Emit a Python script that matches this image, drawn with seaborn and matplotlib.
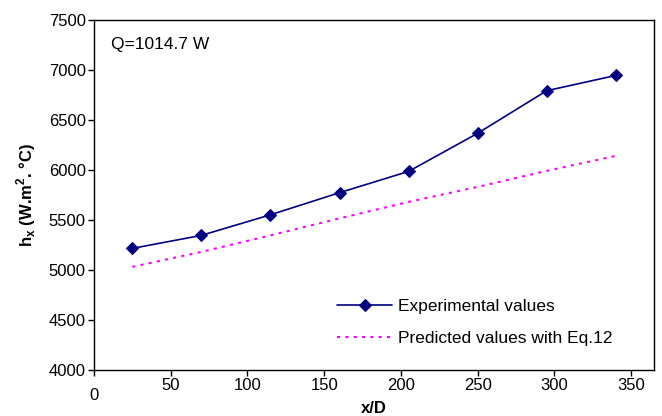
import matplotlib
matplotlib.use("Agg")
import matplotlib.pyplot as plt
import seaborn as sns
import pandas as pd

x_d = [25, 70, 115, 160, 205, 250, 295, 340]
h_exp = [5215, 5345, 5551, 5772, 5985, 6366, 6792, 6945]
h_pred = [5030, 5180, 5345, 5515, 5680, 5830, 5990, 6140]
x_ticks = [0, 50, 100, 150, 200, 250, 300, 350]
y_ticks = [4000, 4500, 5000, 5500, 6000, 6500, 7000, 7500]

sns.set_theme(style="white")
plt.rcParams['font.family'] = ['Liberation Sans', 'DejaVu Sans']
plt.rcParams['mathtext.fontset'] = 'custom'
plt.rcParams['mathtext.rm'] = 'Liberation Sans'
plt.rcParams['mathtext.bf'] = 'Liberation Sans:bold'
plt.rcParams['text.color'] = 'black'
plt.rcParams['axes.labelcolor'] = 'black'
plt.rcParams['xtick.color'] = 'black'
plt.rcParams['ytick.color'] = 'black'

df = pd.DataFrame({"x": x_d, "exp": h_exp, "pred": h_pred})

fig = plt.figure(figsize=(6.62, 4.16), dpi=100)
ax = fig.add_axes([0.142, 0.111, 0.846, 0.841])

sns.lineplot(data=df, x="x", y="exp", ax=ax, color="#000080", marker="D",
             markersize=6, markeredgecolor="#000080", linewidth=1.2,
             label="Experimental values")
sns.lineplot(data=df, x="x", y="pred", ax=ax, color="#FF00FF",
             linewidth=1.5, linestyle=(0, (1.5, 2.5)),
             label="Predicted values with Eq.12")

ax.set_xlim(0, 365)
ax.set_ylim(4000, 7500)
ax.set_xticks(x_ticks)
ax.set_yticks(y_ticks)
xlabels = [str(t) for t in x_ticks]
xlabels[0] = ""
ax.set_xticklabels(xlabels)
ax.text(0, -0.072, "0", transform=ax.get_xaxis_transform(), ha="center",
        va="center", fontsize=12)
ax.tick_params(axis="both", which="both", direction="out", length=4,
               width=1, color="black", labelsize=12, pad=2,
               bottom=True, left=True)
for s in ax.spines.values():
    s.set_color("black")
    s.set_linewidth(1)

ax.set_xlabel("x/D", fontsize=12, fontweight="bold", labelpad=6)
ax.set_ylabel(r"h$_\mathbf{x}$ (W.m$^\mathbf{2}$. °C)", fontsize=12,
              fontweight="bold", labelpad=8)

ax.text(0.03, 0.93, "Q=1014.7 W", transform=ax.transAxes, fontsize=12.5,
        ha="left", va="center")

ax.legend(loc="upper left", bbox_to_anchor=(0.418, 0.228), frameon=False,
          fontsize=12.5, handlelength=3.2, labelspacing=1.0, borderpad=0,
          handletextpad=0.3)

fig.savefig("out.png", dpi=100)
